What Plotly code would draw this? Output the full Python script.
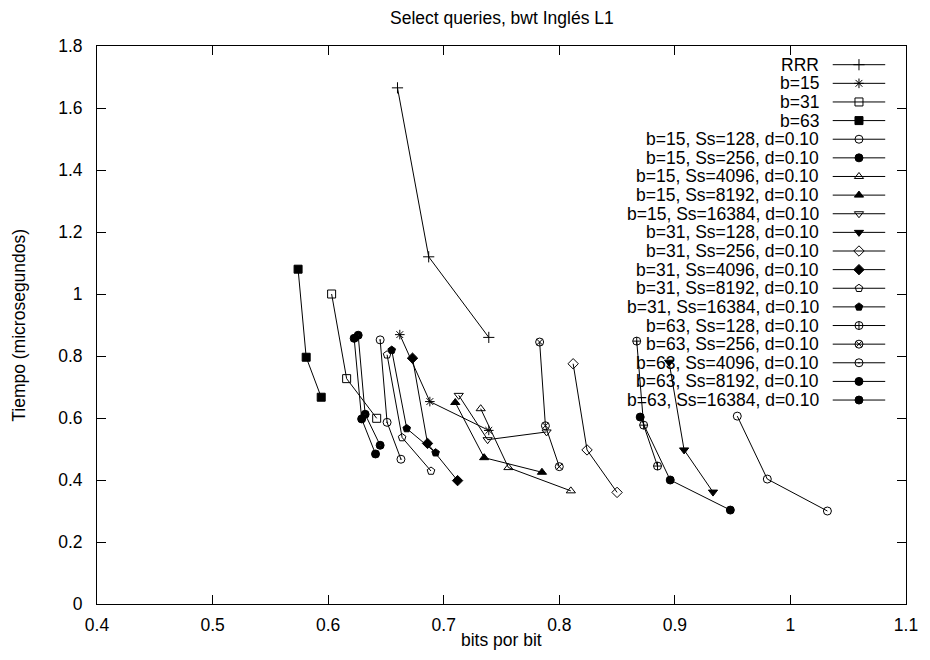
import plotly.graph_objects as go

# ---- data -----------------------------------------------------------------
title_text = "Select queries, bwt Inglés L1"
x_title = "bits por bit"
y_title = "Tiempo (microsegundos)"

x_ticks = [0.4, 0.5, 0.6, 0.7, 0.8, 0.9, 1.0, 1.1]
y_ticks = [0, 0.2, 0.4, 0.6, 0.8, 1.0, 1.2, 1.4, 1.6, 1.8]

rrr_x = [0.660, 0.687, 0.739]
rrr_y = [1.665, 1.120, 0.860]

b15_x = [0.662, 0.688, 0.739]
b15_y = [0.869, 0.653, 0.560]

b31_x = [0.603, 0.616, 0.642]
b31_y = [1.000, 0.727, 0.599]

b63_x = [0.574, 0.581, 0.594]
b63_y = [1.080, 0.796, 0.667]

b15_s128_x = [0.954, 0.980, 1.032]
b15_s128_y = [0.606, 0.403, 0.300]
b15_s256_x = [0.870, 0.896, 0.948]
b15_s256_y = [0.603, 0.400, 0.303]
b15_s4096_x = [0.732, 0.756, 0.810]
b15_s4096_y = [0.630, 0.440, 0.365]
b15_s8192_x = [0.710, 0.735, 0.785]
b15_s8192_y = [0.650, 0.472, 0.425]
b15_s16384_x = [0.713, 0.738, 0.789]
b15_s16384_y = [0.673, 0.530, 0.555]

b31_s128_x = [0.895, 0.908, 0.933]
b31_s128_y = [0.780, 0.497, 0.361]
b31_s256_x = [0.812, 0.824, 0.850]
b31_s256_y = [0.775, 0.497, 0.360]
b31_s4096_x = [0.673, 0.686, 0.712]
b31_s4096_y = [0.793, 0.518, 0.398]
b31_s8192_x = [0.651, 0.664, 0.689]
b31_s8192_y = [0.804, 0.537, 0.429]
b31_s16384_x = [0.655, 0.668, 0.693]
b31_s16384_y = [0.819, 0.566, 0.488]

b63_s128_x = [0.867, 0.873, 0.885]
b63_s128_y = [0.848, 0.577, 0.445]
b63_s256_x = [0.783, 0.788, 0.800]
b63_s256_y = [0.845, 0.575, 0.443]
b63_s4096_x = [0.645, 0.651, 0.663]
b63_s4096_y = [0.852, 0.586, 0.467]
b63_s8192_x = [0.626, 0.632, 0.645]
b63_s8192_y = [0.867, 0.612, 0.512]
b63_s16384_x = [0.6225, 0.629, 0.641]
b63_s16384_y = [0.857, 0.597, 0.484]

series = [
    ("RRR", rrr_x, rrr_y, "cross-thin-open"),
    ("b=15", b15_x, b15_y, "asterisk-open"),
    ("b=31", b31_x, b31_y, "square-open"),
    ("b=63", b63_x, b63_y, "square"),
    ("b=15, Ss=128, d=0.10", b15_s128_x, b15_s128_y, "circle-open"),
    ("b=15, Ss=256, d=0.10", b15_s256_x, b15_s256_y, "circle"),
    ("b=15, Ss=4096, d=0.10", b15_s4096_x, b15_s4096_y, "triangle-up-open"),
    ("b=15, Ss=8192, d=0.10", b15_s8192_x, b15_s8192_y, "triangle-up"),
    ("b=15, Ss=16384, d=0.10", b15_s16384_x, b15_s16384_y, "triangle-down-open"),
    ("b=31, Ss=128, d=0.10", b31_s128_x, b31_s128_y, "triangle-down"),
    ("b=31, Ss=256, d=0.10", b31_s256_x, b31_s256_y, "diamond-open"),
    ("b=31, Ss=4096, d=0.10", b31_s4096_x, b31_s4096_y, "diamond"),
    ("b=31, Ss=8192, d=0.10", b31_s8192_x, b31_s8192_y, "pentagon-open"),
    ("b=31, Ss=16384, d=0.10", b31_s16384_x, b31_s16384_y, "pentagon"),
    ("b=63, Ss=128, d=0.10", b63_s128_x, b63_s128_y, "circle-cross-open"),
    ("b=63, Ss=256, d=0.10", b63_s256_x, b63_s256_y, "circle-x-open"),
    ("b=63, Ss=4096, d=0.10", b63_s4096_x, b63_s4096_y, "circle-open-dot"),
    ("b=63, Ss=8192, d=0.10", b63_s8192_x, b63_s8192_y, "circle-dot"),
    ("b=63, Ss=16384, d=0.10", b63_s16384_x, b63_s16384_y, "circle-x"),
]

# ---- layout constants -----------------------------------------------------
W, H = 930, 660
ML, MR, MT, MB = 97, 16, 46, 56
PW, PH = W - ML - MR, H - MT - MB
FONT = "Liberation Sans, Arial, Helvetica, sans-serif"
FS = 17.5

# key placement (pixels inside the plot box)
KEY_TOP = 18.7
KEY_STEP = 18.63
KEY_TEXT_RIGHT = 731
KEY_LINE = (743, 796)


def marker_for(symbol, size=8):
    return dict(
        symbol=symbol,
        size=size,
        color="black",
        line=dict(color="black", width=1),
    )


fig = go.Figure()

for name, xs, ys, sym in series:
    fig.add_trace(go.Scatter(
        x=xs, y=ys, mode="lines+markers", name=name,
        line=dict(color="black", width=1),
        marker=marker_for(sym),
        showlegend=False,
    ))

# gnuplot-style key: right-aligned label, then a line sample with its point
annotations = []
for i, (name, xs, ys, sym) in enumerate(series):
    ry = KEY_TOP + KEY_STEP * i
    fig.add_trace(go.Scatter(
        x=list(KEY_LINE), y=[ry, ry], mode="lines",
        line=dict(color="black", width=1),
        xaxis="x2", yaxis="y2", showlegend=False, hoverinfo="skip",
    ))
    fig.add_trace(go.Scatter(
        x=[(KEY_LINE[0] + KEY_LINE[1]) / 2], y=[ry], mode="markers",
        marker=marker_for(sym),
        xaxis="x2", yaxis="y2", showlegend=False, hoverinfo="skip",
    ))
    annotations.append(dict(
        x=KEY_TEXT_RIGHT, y=ry, xref="x2", yref="y2", text=name,
        showarrow=False, xanchor="right", yanchor="middle",
        font=dict(family=FONT, size=FS, color="black"),
    ))


def page_y(py):
    """Convert a page row (pixels from top) to paper units."""
    return (H - MB - py) / PH


def page_x(px):
    """Convert a page column (pixels from left) to paper units."""
    return (px - ML) / PW


# title and axis titles
txt_font = dict(family=FONT, size=FS, color="black")
annotations += [
    dict(text=title_text, x=0.5, xref="paper", y=page_y(18), yref="paper",
         xanchor="center", yanchor="middle", showarrow=False, font=txt_font),
    dict(text=x_title, x=0.5, xref="paper", y=page_y(640), yref="paper",
         xanchor="center", yanchor="middle", showarrow=False, font=txt_font),
    dict(text=y_title, x=page_x(18), xref="paper", y=0.5, yref="paper",
         xanchor="center", yanchor="middle", textangle=-90,
         showarrow=False, font=txt_font),
]

axis_common = dict(
    showline=True, linecolor="black", linewidth=1, mirror="ticks",
    ticks="inside", ticklen=9, tickwidth=1, tickcolor="black",
    showgrid=False, zeroline=False,
    tickfont=dict(family=FONT, size=FS, color="black"),
)

fig.update_layout(
    width=W, height=H,
    margin=dict(l=ML, r=MR, t=MT, b=MB, pad=0),
    paper_bgcolor="white", plot_bgcolor="white",
    font=dict(family=FONT, size=FS, color="black"),
    xaxis=dict(range=[0.4, 1.1], tickvals=x_ticks, ticklabelstandoff=5,
               **axis_common),
    yaxis=dict(range=[0, 1.8], tickvals=y_ticks, ticklabelstandoff=10,
               **axis_common),
    xaxis2=dict(range=[0, PW], overlaying="x", anchor="y2", visible=False),
    yaxis2=dict(range=[PH, 0], overlaying="y", anchor="x2", visible=False),
    annotations=annotations,
)

fig.write_html("out.html")
